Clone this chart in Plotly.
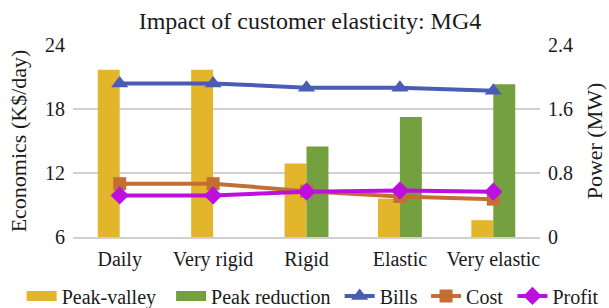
import plotly.graph_objects as go

categories = ["Daily", "Very rigid", "Rigid", "Elastic", "Very elastic"]
peak_valley = [2.09, 2.09, 0.92, 0.48, 0.21]
peak_reduction = [0.0, 0.0, 1.13, 1.50, 1.91]
bills = [20.4, 20.4, 20.0, 20.0, 19.7]
cost = [11.0, 11.0, 10.3, 9.8, 9.55]
profit = [9.9, 9.9, 10.25, 10.35, 10.25]

FONT = "Liberation Serif"
YELLOW, GREEN = "#E3B52B", "#74A03F"
fig = go.Figure()
fig.add_trace(go.Bar(x=categories, y=peak_valley, name="Peak-valley", showlegend=False,
                     marker=dict(color=YELLOW, line=dict(width=0)), yaxis="y"))
fig.add_trace(go.Bar(x=categories, y=peak_reduction, name="Peak reduction", showlegend=False,
                     marker=dict(color=GREEN, line=dict(width=0)), yaxis="y"))
# legend swatches for bars (wide rectangles like the reference)
fig.add_trace(go.Scatter(x=[None], y=[None], name="Peak-valley", mode="lines",
                         line=dict(color=YELLOW, width=10), yaxis="y", legend="legend"))
fig.add_trace(go.Scatter(x=[None], y=[None], name="Peak reduction", mode="lines",
                         line=dict(color=GREEN, width=10), yaxis="y", legend="legend2"))
fig.add_trace(go.Scatter(x=categories, y=bills, name="Bills", mode="lines+markers",
                         line=dict(color="#4A5DB5", width=4), legend="legend3",
                         marker=dict(symbol="triangle-up", size=15, color="#4A5DB5"), yaxis="y2"))
fig.add_trace(go.Scatter(x=categories, y=cost, name="Cost", mode="lines+markers",
                         line=dict(color="#C46E34", width=4), legend="legend4",
                         marker=dict(symbol="square", size=13, color="#C46E34"), yaxis="y2"))
fig.add_trace(go.Scatter(x=categories, y=profit, name="Profit", mode="lines+markers",
                         line=dict(color="#BC0FE0", width=4), legend="legend5",
                         marker=dict(symbol="diamond", size=14, color="#BC0FE0"), yaxis="y2"))


def leg(x):
    return dict(orientation="h", x=x, xanchor="left", y=-0.307, yanchor="middle",
                font=dict(family=FONT, size=20), itemwidth=30,
                bgcolor="rgba(0,0,0,0)", borderwidth=0)


fig.update_layout(
    width=609, height=308,
    margin=dict(l=73, r=69, t=45, b=71, autoexpand=False),
    paper_bgcolor="white", plot_bgcolor="white",
    font=dict(family=FONT, size=20, color="#1a1a1a"),
    title=dict(text="Impact of customer elasticity: MG4", x=0.509, xanchor="center",
               y=0.932, yanchor="middle", font=dict(family=FONT, size=24, color="#1a1a1a")),
    barmode="group", bargap=0.53, bargroupgap=0,
    showlegend=True,
    legend=leg(-0.110), legend2=leg(0.210), legend3=leg(0.571),
    legend4=leg(0.756), legend5=leg(0.941),
    xaxis=dict(showgrid=False, showline=True, linecolor="#d0d0d0", linewidth=1.5,
               ticks="", ticklabelstandoff=3, tickfont=dict(family=FONT, size=20)),
    yaxis=dict(side="right", range=[0, 2.4], tickvals=[0, 0.8, 1.6, 2.4],
               ticktext=["0", "0.8", "1.6", "2.4"], ticklabelstandoff=7,
               showgrid=True, gridcolor="#d0d0d0", gridwidth=1.5, zeroline=False,
               title=dict(text="Power (MW)", font=dict(family=FONT, size=22), standoff=14),
               tickfont=dict(family=FONT, size=20)),
    yaxis2=dict(side="left", overlaying="y", range=[6, 24], tickvals=[6, 12, 18, 24],
                showgrid=False, zeroline=False, ticklabelstandoff=7,
                title=dict(text="Economics (K$/day)", font=dict(family=FONT, size=22), standoff=12),
                tickfont=dict(family=FONT, size=20)),
)

fig.write_html("out.html", config={"displayModeBar": False},
               post_script="document.body.style.margin='0';")
